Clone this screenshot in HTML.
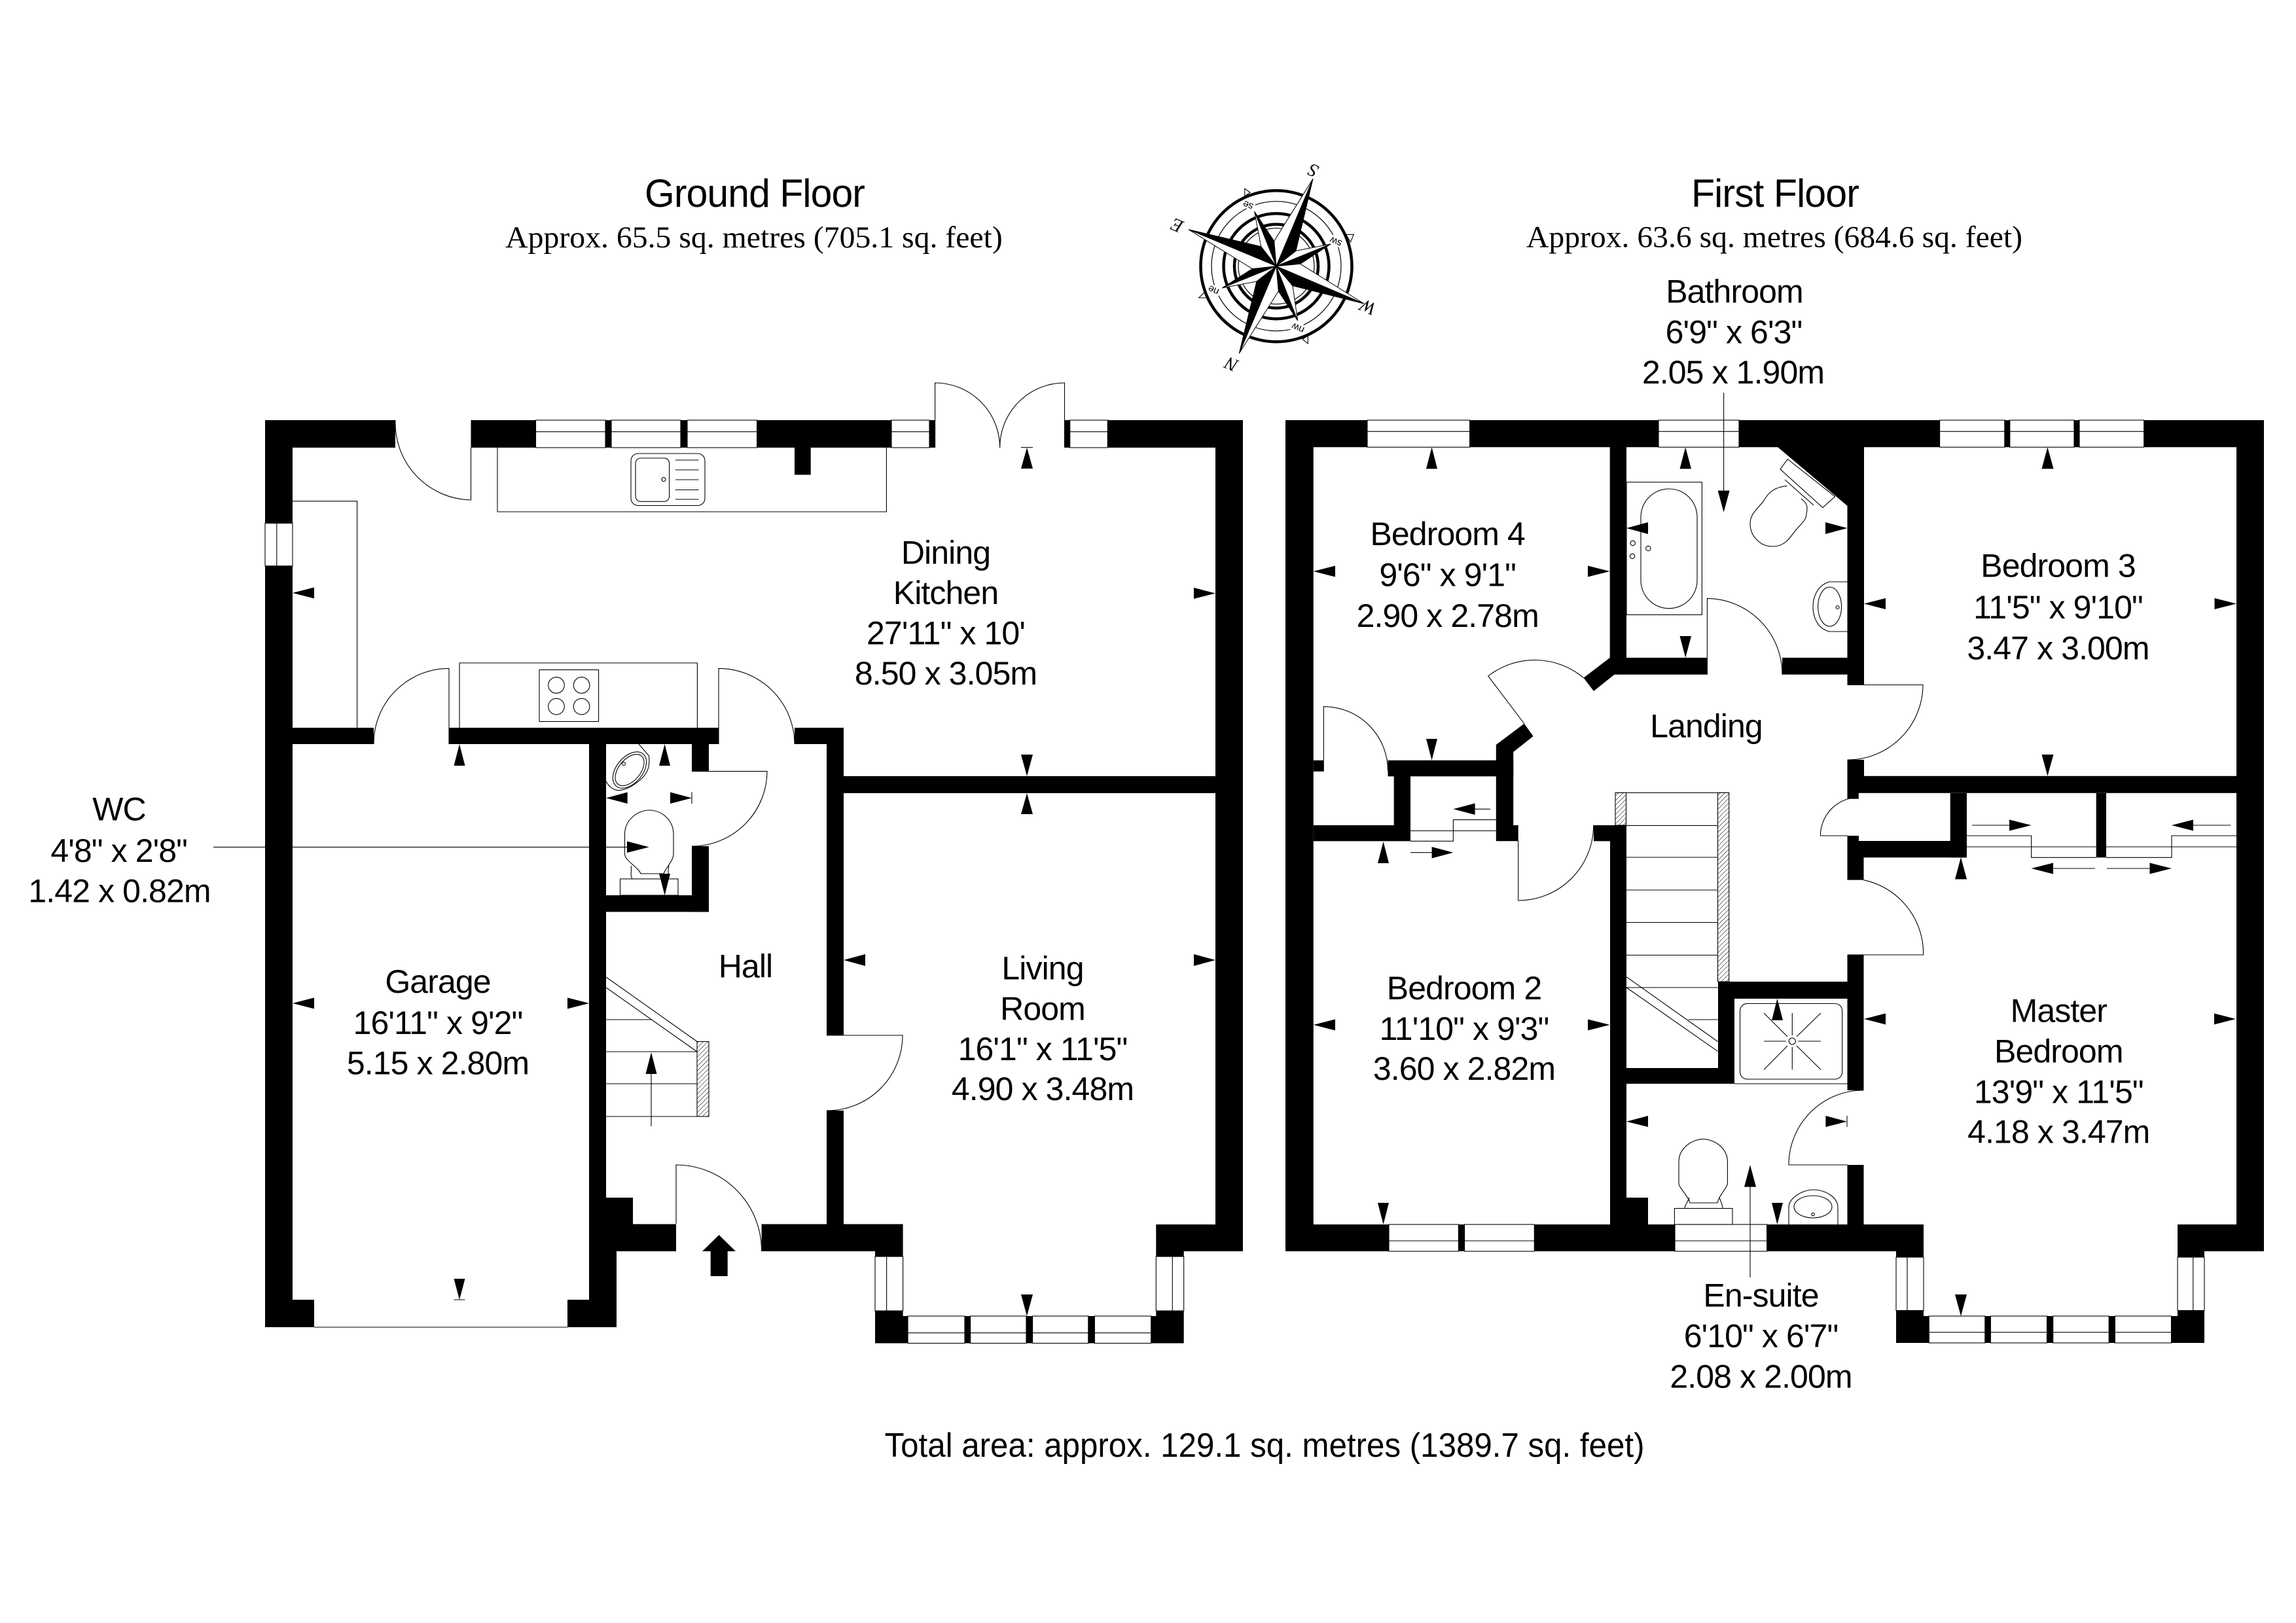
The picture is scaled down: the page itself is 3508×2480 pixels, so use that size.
<!DOCTYPE html>
<html><head><meta charset="utf-8"><style>
html,body{margin:0;padding:0;background:#fff}
svg{display:block}
.t{font-family:"Liberation Sans",sans-serif;font-size:50px;letter-spacing:-.9px;text-anchor:middle;fill:#000}
.s{font-family:"Liberation Serif",serif;font-size:47px;text-anchor:middle;fill:#000}
.l{fill:none;stroke:#000;stroke-width:1.1}
.w{fill:#fff;stroke:#000;stroke-width:1.1}
.b{fill:#000;stroke:none}
.c{font-family:"Liberation Serif",serif;font-style:italic;font-size:28px;text-anchor:middle;fill:#000}
.d{font-family:"Liberation Sans",sans-serif;font-size:15px;text-anchor:middle;fill:#000;paint-order:stroke;stroke:#fff;stroke-width:6px}
</style></head><body>
<svg xmlns="http://www.w3.org/2000/svg" width="3508" height="2480" viewBox="0 0 3508 2480">
<defs><pattern id="h" width="5" height="5" patternUnits="userSpaceOnUse" patternTransform="rotate(45)"><rect width="5" height="5" fill="#fff"/><line x1="0" y1="0" x2="0" y2="5" stroke="#000" stroke-width="1.1"/></pattern></defs>
<rect width="3508" height="2480" fill="#fff"/>

<!-- GROUND FLOOR WALLS -->
<g class="b">
<rect x="405" y="642" width="199" height="42"/>
<rect x="719.5" y="642" width="709" height="42"/>
<rect x="1626.5" y="642" width="272.5" height="42"/>
<rect x="405" y="642" width="42" height="1386"/>
<rect x="405" y="1986" width="75" height="42"/>
<rect x="1857" y="642" width="42" height="1270"/>
<rect x="1214" y="684" width="24.7" height="41.5"/>
<rect x="447" y="1112" width="124" height="25"/>
<rect x="686" y="1112" width="412" height="25"/>
<rect x="1214" y="1112" width="75" height="25"/>
<rect x="1263" y="1112" width="26" height="470"/>
<rect x="1263" y="1697" width="26" height="174"/>
<rect x="1289" y="1186" width="568" height="26"/>
<rect x="900" y="1137" width="26" height="849"/>
<rect x="900" y="1870.5" width="42" height="157.5"/>
<rect x="867" y="1986" width="75" height="42"/>
<rect x="926" y="1870.5" width="107" height="41.5"/>
<rect x="926" y="1830" width="41" height="41"/>
<rect x="1163.6" y="1870.5" width="216" height="41.5"/>
<rect x="1337" y="1912" width="42.6" height="8"/>
<polygon points="1337,2003 1379.6,2003 1379.6,2011 1387,2011 1387,2052.5 1337,2052.5"/>
<rect x="1766.3" y="1871" width="132.7" height="41"/>
<rect x="1766.3" y="1912" width="42.4" height="8"/>
<polygon points="1808.7,2003 1766.3,2003 1766.3,2011 1758.7,2011 1758.7,2052.5 1808.7,2052.5"/>
<rect x="1057" y="1137" width="26" height="41.6"/>
<rect x="1057" y="1293" width="26" height="100.4"/>
<rect x="926" y="1368" width="157" height="25.4"/>
</g>

<!-- GROUND WINDOWS -->
<g>
<rect class="w" x="818.5" y="642" width="106.5" height="42"/><line class="l" x1="818.5" y1="659.7" x2="925" y2="659.7"/>
<rect class="w" x="934" y="642" width="106" height="42"/><line class="l" x1="934" y1="659.7" x2="1040" y2="659.7"/>
<rect class="w" x="1050" y="642" width="106.6" height="42"/><line class="l" x1="1050" y1="659.7" x2="1156.6" y2="659.7"/>
<rect class="w" x="1362" y="642" width="58" height="42"/><line class="l" x1="1362" y1="659.7" x2="1420" y2="659.7"/>
<rect class="w" x="1634.7" y="642" width="57.6" height="42"/><line class="l" x1="1634.7" y1="659.7" x2="1692.3" y2="659.7"/>
<rect class="w" x="405" y="799.5" width="42" height="65.3"/><line class="l" x1="422.8" y1="799.5" x2="422.8" y2="864.8"/>
<rect class="w" x="1337" y="1920" width="42.6" height="83"/><line class="l" x1="1354.6" y1="1920" x2="1354.6" y2="2003"/>
<rect class="w" x="1766.3" y="1920" width="42.4" height="83"/><line class="l" x1="1791.3" y1="1920" x2="1791.3" y2="2003"/>
<rect class="w" x="1387" y="2011" width="87" height="41.5"/>
<rect class="w" x="1482.6" y="2011" width="85.4" height="41.5"/>
<rect class="w" x="1577.6" y="2011" width="85.2" height="41.5"/>
<rect class="w" x="1672.4" y="2011" width="86.3" height="41.5"/>
<rect class="b" x="1474" y="2011" width="8.6" height="41.5"/>
<rect class="b" x="1568" y="2011" width="9.6" height="41.5"/>
<rect class="b" x="1662.8" y="2011" width="9.6" height="41.5"/>
<path class="l" d="M1387 2036.7H1474M1482.6 2036.7H1568M1577.6 2036.7H1662.8M1672.4 2036.7H1758.7"/>
</g>

<!-- GROUND DOORS & FITTINGS -->
<g class="l">
<path d="M719.5 684V764A118 118 0 0 1 604 642"/>
<path d="M1428.6 684V585A99 99 0 0 1 1527.6 684"/>
<path d="M1626.5 684V585A99 99 0 0 0 1527.6 684"/>
<path d="M686 1137V1021.4A115 115 0 0 0 571 1137"/>
<path d="M1098 1137V1021.4A116 116 0 0 1 1214 1137"/>
<path d="M1263 1582H1379A115 115 0 0 1 1263 1697"/>
<path d="M1057 1178.6H1172A115 115 0 0 1 1057 1293"/>
<path d="M1033 1870V1780A131 131 0 0 1 1163.6 1912"/>
<line x1="480" y1="2028" x2="867" y2="2028"/>
<path d="M447 765.8H545.6V1112"/>
<path d="M760 684V782H1354.4V684"/>
<rect x="964" y="693" width="113" height="79.5" rx="11"/>
<rect x="971" y="700" width="51.6" height="66.3" rx="8"/>
<path d="M1032 703H1067.5M1032 718H1067.5M1032 733H1067.5M1032 748.5H1067.5M1032 763H1067.5"/>
<circle cx="1014" cy="732.6" r="3"/>
<path d="M702 1112V1013H1065.4V1112"/>
<rect x="824" y="1023.5" width="90.6" height="79"/>
<circle cx="850" cy="1047" r="12.3"/><circle cx="888.6" cy="1047" r="12.3"/>
<circle cx="850" cy="1079.6" r="12.3"/><circle cx="888.6" cy="1079.6" r="12.3"/>
<!-- WC basin -->
<path d="M976 1137L991.5 1155C993 1170 990 1180 982 1188C970 1200 950 1212 938 1206C932 1203 928 1198 926 1194"/>
<ellipse cx="962" cy="1176.6" rx="32" ry="20" transform="rotate(-50 962 1176.6)"/>
<ellipse cx="962" cy="1176.6" rx="28" ry="16.5" transform="rotate(-50 962 1176.6)"/>
<circle cx="953" cy="1167" r="2.5"/>
<!-- WC toilet -->
<path d="M954.5 1275C954.5 1252 975 1238 992 1238C1010 1238 1029 1252 1029 1275V1305C1029 1315 1018 1325 1014 1335H979C975 1325 954.5 1315 954.5 1305Z"/>
<path d="M964 1323C966 1330 962 1337 966 1343M1022 1323C1020 1330 1022 1337 1020 1343"/>
<rect x="947.5" y="1343" width="88.5" height="25"/>
<!-- ground stairs -->
<path d="M926 1558H995M926 1607H1065M926 1656H1065M926 1706H1065"/>
<path d="M926 1493L1065 1591.5M926 1509L1065 1607"/>
<line x1="995" y1="1640" x2="995" y2="1721"/>
</g>
<rect x="1065" y="1591.5" width="18" height="114.5" fill="url(#h)" stroke="#000" stroke-width="1.1"/>
<polygon class="b" points="995,1608 986.5,1641 1003.5,1641"/>
<polygon class="b" points="1098.5,1887 1073,1912 1085.7,1912 1085.7,1950 1111.7,1950 1111.7,1912 1124,1912"/>

<!-- GROUND ARROWS -->
<g class="b">
<polygon points="447,906 480,897.5 480,914.5"/>
<polygon points="1857,906.6 1824,898 1824,915"/>
<polygon points="1569,684 1560,716 1578,716"/>
<polygon points="1569,1186 1560,1153 1578,1153"/>
<polygon points="1569,1212 1560,1244 1578,1244"/>
<polygon points="1289,1467 1322,1458 1322,1476"/>
<polygon points="1857,1467 1824,1458 1824,1476"/>
<polygon points="1569,2011 1560,1978 1578,1978"/>
<polygon points="447,1533 480,1524.5 480,1541.5"/>
<polygon points="900,1533 867,1524.5 867,1541.5"/>
<polygon points="702,1986 693.5,1954 710.5,1954"/>
<polygon points="702,1137 693.5,1170 710.5,1170"/>
<polygon points="1015.6,1137 1007,1170 1024,1170"/>
<polygon points="926,1219.4 958.7,1210.5 958.7,1228"/>
<polygon points="1057,1219.4 1024,1210.5 1024,1228"/>
<polygon points="1015.6,1368 1007,1335 1024,1335"/>
<polygon points="991.7,1294.4 958,1285.5 958,1303"/>
</g>
<g class="l">
<line x1="326" y1="1294.4" x2="958" y2="1294.4"/>
<line x1="1560" y1="683.7" x2="1578" y2="683.7"/>
<line x1="693.5" y1="1986" x2="710.5" y2="1986"/>
<line x1="1057" y1="1210.5" x2="1057" y2="1228"/>
</g>

<!-- FIRST FLOOR WALLS -->
<g class="b">
<rect x="1964" y="642" width="1495" height="41.3"/>
<rect x="1964" y="642" width="42.8" height="1270"/>
<rect x="1964" y="1871" width="975" height="41"/>
<rect x="3327" y="1871" width="132" height="41"/>
<rect x="3417" y="642" width="42" height="1270"/>
<polygon points="2459.7,683 2485,683 2485,1005 2608.4,1005 2608.4,1030.7 2466.6,1030.7 2435,1056 2419.5,1035.8 2459.7,1005"/>
<rect x="2723" y="1005" width="99.5" height="25.7"/>
<rect x="2822.5" y="683" width="25.5" height="363.5"/>
<polygon points="2715.9,683 2848,683 2848,773 2822.5,773"/>
<rect x="2822.5" y="1161" width="25.5" height="25"/>
<rect x="2822.5" y="1185.8" width="594.5" height="26"/>
<rect x="2822.5" y="1186" width="17.3" height="34.7"/>
<rect x="2979.7" y="1212" width="25.3" height="98.3"/>
<rect x="3202.7" y="1212" width="15.3" height="98.3"/>
<rect x="2840" y="1285" width="165" height="25.3"/>
<rect x="2822.5" y="1277" width="17.5" height="33"/>
<rect x="2822.5" y="1310" width="25" height="34.6"/>
<rect x="2822.5" y="1459" width="25" height="207"/>
<rect x="2822.5" y="1780" width="25" height="91"/>
<rect x="2625" y="1500" width="197.5" height="26"/>
<rect x="2625" y="1500" width="25" height="156"/>
<rect x="2485" y="1632" width="165" height="24"/>
<rect x="2460" y="1261" width="25" height="610"/>
<rect x="2435" y="1261" width="50" height="24.3"/>
<rect x="2120.5" y="1161.8" width="191.7" height="24.5"/>
<rect x="2006.8" y="1161.8" width="16" height="17"/>
<rect x="2129.7" y="1186" width="25.3" height="75"/>
<rect x="2006.8" y="1261" width="148.2" height="24.3"/>
<polygon points="2285.8,1138 2328.8,1105.7 2342.6,1125 2312.2,1149 2312.2,1261 2319.7,1261 2319.7,1285.3 2285.8,1285.3"/>
<rect x="2460" y="1830" width="58" height="41"/>
<rect x="2897" y="1912" width="42" height="9"/>
<rect x="3327" y="1912" width="41" height="9"/>
<polygon points="2897,2002.5 2939,2002.5 2939,2011 2947.3,2011 2947.3,2052 2897,2052"/>
<polygon points="3368,2002.5 3327,2002.5 3327,2011 3317.5,2011 3317.5,2052 3368,2052"/>
</g>

<!-- FIRST WINDOWS -->
<g>
<rect class="w" x="2089" y="642" width="156.6" height="41.3"/><line class="l" x1="2089" y1="659.3" x2="2245.6" y2="659.3"/>
<rect class="w" x="2534" y="642" width="123" height="41.3"/><line class="l" x1="2534" y1="659.3" x2="2657" y2="659.3"/>
<rect class="w" x="2963.6" y="642" width="99.2" height="41.3"/><line class="l" x1="2963.6" y1="659.3" x2="3062.8" y2="659.3"/>
<rect class="w" x="3070.8" y="642" width="98.2" height="41.3"/><line class="l" x1="3070.8" y1="659.3" x2="3169" y2="659.3"/>
<rect class="w" x="3177" y="642" width="98.7" height="41.3"/><line class="l" x1="3177" y1="659.3" x2="3275.7" y2="659.3"/>
<rect class="w" x="2122" y="1871" width="106.4" height="41"/><line class="l" x1="2122" y1="1896" x2="2228.4" y2="1896"/>
<rect class="w" x="2237.6" y="1871" width="106.7" height="41"/><line class="l" x1="2237.6" y1="1896" x2="2344.3" y2="1896"/>
<rect class="w" x="2559" y="1871" width="140.6" height="41"/><line class="l" x1="2559" y1="1896" x2="2699.6" y2="1896"/>
<rect class="w" x="2897" y="1921" width="42" height="81.5"/><line class="l" x1="2914" y1="1921" x2="2914" y2="2002.5"/>
<rect class="w" x="3327" y="1921" width="41" height="81.5"/><line class="l" x1="3350.8" y1="1921" x2="3350.8" y2="2002.5"/>
<rect class="w" x="2947.3" y="2011" width="85.5" height="41"/>
<rect class="w" x="3041.4" y="2011" width="86.1" height="41"/>
<rect class="w" x="3136.7" y="2011" width="85.5" height="41"/>
<rect class="w" x="3231.4" y="2011" width="86.1" height="41"/>
<rect class="b" x="3032.8" y="2011" width="8.6" height="41"/>
<rect class="b" x="3127.5" y="2011" width="9.2" height="41"/>
<rect class="b" x="3222.2" y="2011" width="9.2" height="41"/>
<path class="l" d="M2947.3 2035.8H3032.8M3041.4 2035.8H3127.5M3136.7 2035.8H3222.2M3231.4 2035.8H3317.5"/>
</g>

<!-- FIRST DOORS & FITTINGS -->
<g class="l">
<path d="M2608.4 1030.7V914.4A116 116 0 0 1 2723 1030.7"/>
<path d="M2822.5 1046.5H2938A115 115 0 0 1 2822.5 1161"/>
<path d="M2822.5 1277H2781.4A58.6 58.6 0 0 1 2840 1218.4"/>
<path d="M2847 1344.6A115 115 0 0 1 2938.7 1459H2822.5"/>
<path d="M2847 1666A114 114 0 0 0 2733 1780H2822.5"/>
<path d="M2328.8 1105.7L2273.7 1033A116 116 0 0 1 2419.5 1035.8"/>
<path d="M2022.3 1162V1079.7A98 98 0 0 1 2120.5 1178"/>
<path d="M2319.7 1285V1376A115 115 0 0 0 2434.7 1261"/>
<!-- sliding -->
<path d="M3005 1277H3103.6V1310.3H3202.7M3005 1294H3202.7"/>
<path d="M3417 1277H3318V1310.3H3218M3218 1294H3417"/>
<path d="M3013 1261H3075M3408 1261H3345M3201 1327H3130M3219 1327H3290"/>
<path d="M2155 1269.5H2285.8M2155 1285.3H2220.4V1252.6H2285.8"/>
<path d="M2277 1236.3H2248M2155 1302.7H2192"/>
<!-- bath -->
<rect x="2485" y="736.8" width="115.4" height="202.6"/>
<rect x="2507" y="747" width="86" height="182.7" rx="43"/>
<circle cx="2494.7" cy="830" r="3.7"/><circle cx="2494" cy="850" r="3.7"/><circle cx="2518.3" cy="838" r="3.7"/>
<!-- bath toilet -->
<polygon points="2731.3,701.6 2720,717 2784.9,775.6 2803.6,758.8"/>
<path d="M2727 733L2771 772"/>
<path d="M2730.6 742.4C2712 744 2702 752 2695 765C2685 778 2674 785 2674 800C2674 820 2690 835 2708 835C2725 835 2733 825 2742 812C2752 800 2760 795 2760 785C2762 775 2762 770 2752 762"/>
<path d="M2822.5 889H2795C2775 895 2770 915 2770 927C2770 940 2775 960 2795 965H2822.5"/>
<ellipse cx="2795.6" cy="927" rx="18" ry="30"/>
<circle cx="2807.6" cy="928" r="2.5"/>
<!-- shower -->
<rect x="2658.5" y="1533.5" width="156.2" height="115.5" rx="11"/>
<line x1="2650" y1="1656" x2="2822.5" y2="1656"/>
<circle cx="2738.3" cy="1591" r="5"/>
<path d="M2695 1591H2729M2747.5 1591H2782M2738.3 1548V1582M2738.3 1600V1634.5M2695 1548L2731 1584M2782 1548L2745 1584M2695 1634.5L2731 1598M2782 1634.5L2745 1598"/>
<!-- ensuite toilet -->
<path d="M2565 1775C2565 1755 2585 1740.7 2602 1740.7C2620 1740.7 2639.4 1755 2639.4 1775V1808C2639.4 1815 2627 1825 2624 1838H2582C2578 1825 2565 1815 2565 1808Z"/>
<path d="M2581 1830C2578 1838 2574 1842 2574 1846M2627 1830C2630 1838 2632 1842 2632 1846"/>
<rect x="2558.4" y="1846.5" width="88.6" height="24.5"/>
<!-- ensuite basin -->
<path d="M2733 1871V1845C2733 1830 2755 1818 2770 1818C2790 1818 2808 1830 2808 1845V1871"/>
<ellipse cx="2770" cy="1844" rx="29" ry="17"/>
<circle cx="2770" cy="1855.5" r="2.2"/>
<!-- first stairs -->
<path d="M2468 1211.3H2641.7"/>
<path d="M2485 1261.4H2624.5M2485 1310H2624.5M2485 1360H2624.5M2485 1409.5H2624.5M2485 1459.5H2624.5M2485 1509H2624.5M2579.7 1558H2624.5"/>
<path d="M2485 1492.7L2624.5 1591.5M2485 1509L2624.5 1606.4"/>
<line x1="2633.6" y1="600" x2="2633.6" y2="750"/>
<line x1="2674" y1="1812" x2="2674" y2="1952"/>
<line x1="2822" y1="1705" x2="2822" y2="1722"/>
</g>
<rect x="2468" y="1211.3" width="16.5" height="49.7" fill="url(#h)" stroke="#000" stroke-width="1.1"/>
<rect x="2624.5" y="1211.3" width="17.2" height="288.7" fill="url(#h)" stroke="#000" stroke-width="1.1"/>

<!-- FIRST ARROWS -->
<g class="b">
<polygon points="3128.4,683.3 3119.5,716.4 3137.5,716.4"/>
<polygon points="3128.4,1185.8 3119.5,1153 3137.5,1153"/>
<polygon points="2848,922.5 2881,914 2881,931"/>
<polygon points="3417,922.5 3383.5,914 3383.5,931"/>
<polygon points="2575.2,683.3 2566.5,716.4 2584,716.4"/>
<polygon points="2575.2,1005 2566.5,972 2584,972"/>
<polygon points="2485,807 2518,798 2518,816"/>
<polygon points="2822.5,807 2789,798 2789,816"/>
<polygon points="2633.6,782.8 2624.6,749.6 2642.6,749.6"/>
<polygon points="2187.6,683.3 2179,716.4 2196,716.4"/>
<polygon points="2187.6,1161.8 2179,1129 2196,1129"/>
<polygon points="2006.8,873 2040,864.5 2040,881.5"/>
<polygon points="2459.7,873 2426,864.5 2426,881.5"/>
<polygon points="2113.6,1286 2105,1319 2122,1319"/>
<polygon points="2113.6,1871 2105,1838 2122,1838"/>
<polygon points="2006.8,1566 2040,1557.5 2040,1574.5"/>
<polygon points="2459.7,1566 2426,1557.5 2426,1574.5"/>
<polygon points="2220.4,1236.3 2253.6,1227.5 2253.6,1245"/>
<polygon points="2220.4,1302.7 2187.6,1294 2187.6,1311.5"/>
<polygon points="3103.6,1261 3070,1252.5 3070,1269.5"/>
<polygon points="3318,1261 3351,1252.5 3351,1269.5"/>
<polygon points="3103.6,1327 3137,1318.5 3137,1335.5"/>
<polygon points="3318,1327 3284.5,1318.5 3284.5,1335.5"/>
<polygon points="2996,2011 2987,1978 3005,1978"/>
<polygon points="2996,1310 2987,1343.5 3005,1343.5"/>
<polygon points="2848,1557 2881,1548.5 2881,1565.5"/>
<polygon points="3416,1557 3383,1548.5 3383,1565.5"/>
<polygon points="2485,1713.7 2518,1705 2518,1722"/>
<polygon points="2822,1713.7 2789.4,1705 2789.4,1722"/>
<polygon points="2674,1780 2665,1813.6 2683,1813.6"/>
<polygon points="2715.4,1871 2707,1838 2724,1838"/>
<polygon points="2715.4,1526 2707,1559 2724,1559"/>
</g>

<!-- COMPASS -->
<g>
<polygon class="w" points="1901.7,288.3 1901.7,300 1910,294"/>
<polygon class="w" points="2068.3,358.3 2056.7,358.3 2063.3,370"/>
<polygon class="w" points="1831.7,455 1840,446.7 1845,455"/>
<polygon class="w" points="1998.3,525 1998.3,513.3 1990,518.3"/>
<g fill="none" stroke="#000">
<circle cx="1950" cy="406.7" r="115.5" stroke-width="4.5"/>
<circle cx="1950" cy="406.7" r="99" stroke-width="1.2"/>
<circle cx="1950" cy="406.7" r="80.5" stroke-width="4.5"/>
<circle cx="1950" cy="406.7" r="64" stroke-width="4.5"/>
<circle cx="1950" cy="406.7" r="58" stroke-width="1.2"/>
</g>
<text class="d" transform="translate(1908.7 309.3) rotate(203)">se</text>
<text class="d" transform="translate(2043 365) rotate(203)">sw</text>
<text class="d" transform="translate(1985 497) rotate(203)">nw</text>
<text class="d" transform="translate(1856 439) rotate(203)">ne</text>
<g stroke="#000" stroke-width="1" stroke-linejoin="miter">
<polygon fill="#fff" points="1950,406.7 1916.7,323.3 1926.7,376.7"/>
<polygon fill="#000" points="1950,406.7 1916.7,323.3 1946.7,368.3"/>
<polygon fill="#fff" points="1950,406.7 2033,373 1980,383.3"/>
<polygon fill="#000" points="1950,406.7 2033,373 1986.7,403.3"/>
<polygon fill="#fff" points="1950,406.7 1982.7,490 1975,436.7"/>
<polygon fill="#000" points="1950,406.7 1982.7,490 1953.3,445"/>
<polygon fill="#000" points="1950,406.7 1867.3,440 1913.3,410.7"/>
<polygon fill="#fff" points="1950,406.7 1867.3,440 1920,430"/>
<polygon fill="#fff" points="1950,406.7 2006,273.3 1946.7,368.3"/>
<polygon fill="#000" points="1950,406.7 2006,273.3 1980,383.3"/>
<polygon fill="#fff" points="1950,406.7 2084,464 1986.7,403.3"/>
<polygon fill="#000" points="1950,406.7 2084,464 1975,436.7"/>
<polygon fill="#fff" points="1950,406.7 1893.3,540 1953.3,445"/>
<polygon fill="#000" points="1950,406.7 1893.3,540 1920,430"/>
<polygon fill="#000" points="1950,406.7 1816,350.7 1926.7,376.7"/>
<polygon fill="#fff" points="1950,406.7 1816,350.7 1913.3,410.7"/>
</g>
<text class="c" transform="translate(2010 252) rotate(203)">S</text>
<text class="c" transform="translate(1802 336) rotate(203)">E</text>
<text class="c" transform="translate(2094 461) rotate(203)">W</text>
<text class="c" transform="translate(1885 548) rotate(203)">N</text>
</g>

<!-- TEXT -->
<text class="t" x="1153" y="316" style="font-size:60px" textLength="336" lengthAdjust="spacingAndGlyphs">Ground Floor</text>
<text class="s" x="1152" y="378" textLength="759.6" lengthAdjust="spacingAndGlyphs">Approx. 65.5 sq. metres (705.1 sq. feet)</text>
<text class="t" x="2712" y="316" style="font-size:60px" textLength="256" lengthAdjust="spacingAndGlyphs">First Floor</text>
<text class="s" x="2711" y="377.7" textLength="758" lengthAdjust="spacingAndGlyphs">Approx. 63.6 sq. metres (684.6 sq. feet)</text>
<g transform="translate(0,-1.5)">
<text class="t" x="2650" y="464">Bathroom</text>
<text class="t" x="2649" y="526">6'9" x 6'3"</text>
<text class="t" x="2648" y="587.3">2.05 x 1.90m</text>
<text class="t" x="182" y="1255">WC</text>
<text class="t" x="181.7" y="1318.3">4'8" x 2'8"</text>
<text class="t" x="182.5" y="1380">1.42 x 0.82m</text>
<text class="t" x="1445" y="862.8">Dining</text>
<text class="t" x="1445" y="924.5">Kitchen</text>
<text class="t" x="1445" y="986">27'11" x 10'</text>
<text class="t" x="1445" y="1047.5">8.50 x 3.05m</text>
<text class="t" x="669" y="1518.6">Garage</text>
<text class="t" x="669" y="1581.7">16'11" x 9'2"</text>
<text class="t" x="669" y="1643">5.15 x 2.80m</text>
<text class="t" x="1139" y="1495">Hall</text>
<text class="t" x="1593" y="1498">Living</text>
<text class="t" x="1593" y="1560">Room</text>
<text class="t" x="1593" y="1621.4">16'1" x 11'5"</text>
<text class="t" x="1593" y="1682.6">4.90 x 3.48m</text>
<text class="t" x="2211.7" y="834.3">Bedroom 4</text>
<text class="t" x="2211.7" y="897">9'6" x 9'1"</text>
<text class="t" x="2211.7" y="959.3">2.90 x 2.78m</text>
<text class="t" x="2607" y="1128">Landing</text>
<text class="t" x="3144.5" y="883">Bedroom 3</text>
<text class="t" x="3144.5" y="946.5">11'5" x 9'10"</text>
<text class="t" x="3144.5" y="1008.8">3.47 x 3.00m</text>
<text class="t" x="2237" y="1528.3">Bedroom 2</text>
<text class="t" x="2237" y="1590.3">11'10" x 9'3"</text>
<text class="t" x="2237" y="1651.7">3.60 x 2.82m</text>
<text class="t" x="3145.3" y="1562.8">Master</text>
<text class="t" x="3145.3" y="1624.8">Bedroom</text>
<text class="t" x="3145.3" y="1686.8">13'9" x 11'5"</text>
<text class="t" x="3145.3" y="1748.2">4.18 x 3.47m</text>
<text class="t" x="2690.5" y="1998">En-suite</text>
<text class="t" x="2690.5" y="2060">6'10" x 6'7"</text>
<text class="t" x="2690.5" y="2122">2.08 x 2.00m</text>
</g>
<text class="t" x="1932" y="2226" style="letter-spacing:0;font-size:52px" textLength="1161" lengthAdjust="spacingAndGlyphs">Total area: approx. 129.1 sq. metres (1389.7 sq. feet)</text>
</svg>
</body></html>
